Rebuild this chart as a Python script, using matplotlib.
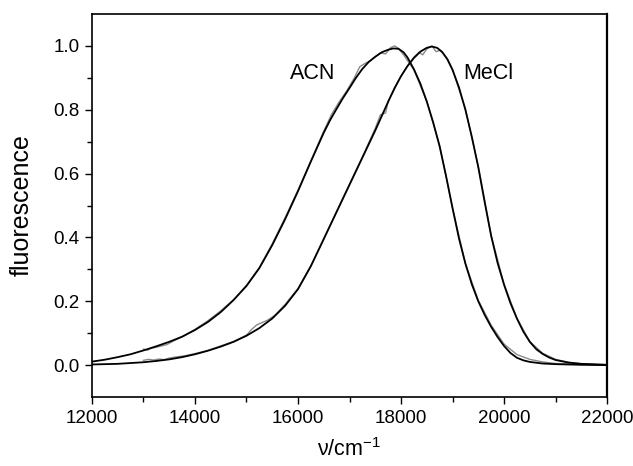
import numpy as np
import matplotlib.pyplot as plt

plt.rcParams['font.family'] = ['Liberation Sans', 'DejaVu Sans']

# smooth fits (wavenumber in cm-1, normalised fluorescence)
acn_fit_nu = [12000, 12250, 12500, 12750, 13000, 13250, 13500, 13750, 14000, 14250,
              14500, 14750, 15000, 15250, 15500, 15750, 16000, 16250, 16500, 16625,
              16750, 16875, 17000, 17125, 17250, 17375, 17500, 17625, 17750, 17850,
              17950, 18050, 18125, 18250, 18375, 18500, 18625, 18750, 18875, 19000,
              19125, 19250, 19375, 19500, 19625, 19750, 19875, 20000, 20125, 20250,
              20375, 20500, 20750, 21000, 21500, 22000]
acn_fit = [0.011, 0.017, 0.025, 0.034, 0.046, 0.059, 0.073, 0.089, 0.110, 0.135,
           0.166, 0.204, 0.248, 0.304, 0.376, 0.457, 0.545, 0.638, 0.728, 0.768,
           0.803, 0.837, 0.868, 0.900, 0.928, 0.950, 0.966, 0.980, 0.988, 0.992,
           0.991, 0.980, 0.964, 0.927, 0.882, 0.826, 0.760, 0.685, 0.592, 0.492,
           0.397, 0.318, 0.253, 0.200, 0.157, 0.120, 0.088, 0.060, 0.038, 0.023,
           0.015, 0.010, 0.005, 0.003, 0.001, 0.000]

mecl_fit_nu = [12000, 12500, 13000, 13250, 13500, 13750, 14000, 14250, 14500, 14750,
               15000, 15250, 15500, 15750, 16000, 16250, 16500, 16750, 17000, 17250,
               17500, 17750, 17875, 18000, 18125, 18250, 18375, 18500, 18600, 18700,
               18800, 18900, 19000, 19125, 19250, 19375, 19500, 19625, 19750, 19875,
               20000, 20125, 20250, 20375, 20500, 20625, 20750, 20875, 21000, 21250,
               21500, 22000]
mecl_fit = [0.002, 0.004, 0.009, 0.013, 0.018, 0.025, 0.034, 0.045, 0.058, 0.073,
            0.092, 0.116, 0.146, 0.186, 0.238, 0.310, 0.395, 0.480, 0.565, 0.650,
            0.735, 0.825, 0.868, 0.905, 0.937, 0.962, 0.982, 0.994, 0.998, 0.994,
            0.981, 0.958, 0.925, 0.870, 0.800, 0.715, 0.620, 0.510, 0.405, 0.320,
            0.252, 0.194, 0.146, 0.105, 0.073, 0.050, 0.035, 0.024, 0.016, 0.008,
            0.004, 0.001]

# measured spectra
acn_nu = [13000, 13080, 13150, 13250, 13350, 13450, 13600, 13800, 14000, 14250,
          14500, 14750, 15000, 15250, 15500, 15750, 16000, 16250, 16500, 16650,
          16800, 16950, 17100, 17200, 17300, 17400, 17500, 17600, 17700, 17800,
          17880, 17950, 18050, 18250, 18500, 18750, 19000, 19250, 19500, 19750,
          20000, 20250, 20500, 20750, 21000, 21500, 22000]
acn = [0.050, 0.047, 0.053, 0.056, 0.060, 0.064, 0.077, 0.093, 0.112, 0.139,
       0.170, 0.205, 0.250, 0.306, 0.380, 0.462, 0.548, 0.640, 0.733, 0.785,
       0.825, 0.860, 0.902, 0.935, 0.945, 0.953, 0.966, 0.978, 0.975, 0.995,
       1.000, 0.992, 0.972, 0.925, 0.826, 0.688, 0.492, 0.318, 0.203, 0.125,
       0.066, 0.033, 0.018, 0.010, 0.005, 0.002, 0.001]

mecl_nu = [13000, 13100, 13200, 13300, 13400, 13500, 13650, 13800, 14000, 14250,
           14500, 14750, 15000, 15100, 15200, 15300, 15400, 15550, 15750, 16000,
           16250, 16500, 16750, 17000, 17250, 17500, 17600, 17700, 17750, 18000,
           18250, 18350, 18420, 18500, 18600, 18680, 18760, 18900, 19000, 19250,
           19500, 19750, 20000, 20250, 20500, 20750, 21000, 21250, 21500, 22000]
mecl = [0.015, 0.018, 0.016, 0.019, 0.017, 0.022, 0.026, 0.029, 0.036, 0.046,
        0.060, 0.074, 0.094, 0.112, 0.126, 0.133, 0.140, 0.156, 0.190, 0.240,
        0.312, 0.396, 0.482, 0.567, 0.652, 0.742, 0.784, 0.790, 0.826, 0.906,
        0.965, 0.980, 0.972, 0.990, 1.000, 0.982, 0.986, 0.960, 0.926, 0.802,
        0.623, 0.406, 0.254, 0.147, 0.074, 0.037, 0.018, 0.009, 0.004, 0.001]

fig = plt.figure(figsize=(6.33, 4.66), dpi=100)
ax = fig.add_axes([0.1453, 0.148, 0.8137, 0.822])

ax.plot(acn_nu, acn, color='#8a8a8a', lw=1.0)
ax.plot(mecl_nu, mecl, color='#8a8a8a', lw=1.0)
ax.plot(acn_fit_nu, acn_fit, color='black', lw=1.3)
ax.plot(mecl_fit_nu, mecl_fit, color='black', lw=1.3)

ax.text(16278, 0.915, 'ACN', fontsize=15.5, ha='center', va='center')
ax.text(19702, 0.915, 'MeCl', fontsize=15.5, ha='center', va='center')

ax.set_xlim(12000, 22000)
ax.set_ylim(-0.1, 1.1)
ax.set_xticks(np.arange(12000, 22001, 2000))
ax.set_xticks(np.arange(13000, 22000, 2000), minor=True)
ax.set_yticks(np.arange(0, 1.01, 0.2))
ax.set_yticks(np.arange(0.1, 1.1, 0.2), minor=True)
ax.set_yticklabels(['0.0', '0.2', '0.4', '0.6', '0.8', '1.0'])

ax.tick_params(which='both', direction='out', labelsize=13.5, width=1.0, pad=4)
ax.tick_params(which='major', length=5)
ax.tick_params(which='minor', length=3.6)
for s in ax.spines.values():
    s.set_linewidth(1.2)
ax.spines['right'].set_linewidth(1.6)

ax.set_xlabel(r'$\mathregular{\nu/cm^{-1}}$', fontsize=15.5)
ax.set_ylabel('fluorescence', fontsize=18)
ax.xaxis.set_label_coords(0.5, -0.106)
ax.yaxis.set_label_coords(-0.113, 0.5)

fig.savefig('out.png', dpi=100)
